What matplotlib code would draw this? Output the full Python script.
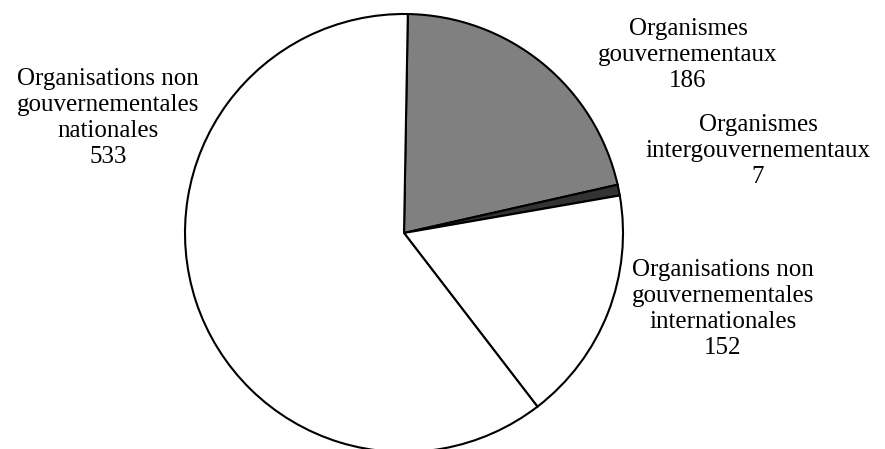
import matplotlib.pyplot as plt

categories = ['Organismes\ngouvernementaux',
              'Organismes\nintergouvernementaux',
              'Organisations non\ngouvernementales\ninternationales',
              'Organisations non\ngouvernementales\nnationales']
values = [186, 7, 152, 533]
colors = ['#808080', '#333333', 'white', 'white']

# label centres in pixel units (y measured from the top)
label_pos = [(688, 55), (758, 151), (723, 309), (108, 118)]

plt.rcParams['font.family'] = ['Liberation Serif', 'DejaVu Serif']

fig = plt.figure(figsize=(8.85, 4.49), dpi=100)
ax = fig.add_axes([0, 0, 1, 1])

ax.pie(values, colors=colors, startangle=89, counterclock=False,
       center=(404, 449 - 233), radius=219, frame=True,
       wedgeprops={'edgecolor': 'black', 'linewidth': 1.5})
ax.set_xlim(0, 885)
ax.set_ylim(0, 449)
ax.set_aspect('equal')
ax.axis('off')

for name, val, (x, y) in zip(categories, values, label_pos):
    ax.text(x, 449 - y, f'{name}\n{val}', ha='center', va='center',
            fontsize=18, linespacing=1.22, color='black')

fig.savefig('out.png', dpi=100)
